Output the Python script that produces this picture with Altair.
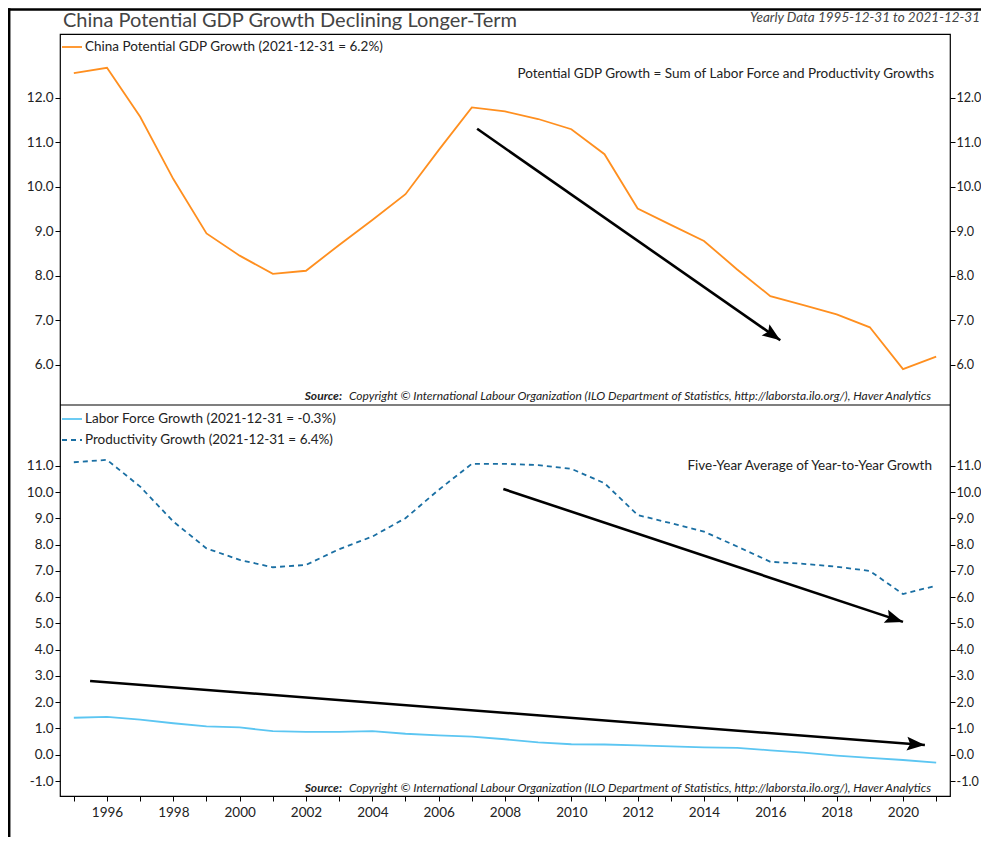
import math
import altair as alt
import pandas as pd

# ---------------- data ----------------
years = list(range(1995, 2022))
gdp = [12.55, 12.67, 11.57, 10.17, 8.95, 8.45, 8.04, 8.11, 8.69, 9.25, 9.83, 10.82, 11.78,
       11.69, 11.52, 11.29, 10.73, 9.51, 9.14, 8.78, 8.14, 7.54, 7.34, 7.13, 6.84, 5.90, 6.18]
productivity = [11.14, 11.23, 10.21, 8.88, 7.86, 7.42, 7.14, 7.23, 7.83, 8.31, 9.01, 10.09, 11.08,
                11.08, 11.03, 10.89, 10.34, 9.13, 8.82, 8.50, 7.93, 7.35, 7.27, 7.16, 7.00, 6.12, 6.44]
labor = [1.41, 1.44, 1.34, 1.20, 1.08, 1.04, 0.90, 0.87, 0.87, 0.90, 0.80, 0.74, 0.69,
         0.59, 0.47, 0.40, 0.39, 0.36, 0.32, 0.28, 0.26, 0.17, 0.08, -0.03, -0.12, -0.20, -0.30]

top_ticks = [6, 7, 8, 9, 10, 11, 12]
bottom_ticks = [-1, 0, 1, 2, 3, 4, 5, 6, 7, 8, 9, 10, 11]

# trend arrows (year, value) start -> end
top_arrow_x = [2007.16, 2016.3]
top_arrow_y = [11.30, 6.55]
prod_arrow_x = [2007.95, 2020.0]
prod_arrow_y = [10.12, 5.06]
labor_arrow_x = [1995.49, 2020.66]
labor_arrow_y = [2.81, 0.37]

title_text = "China Potential GDP Growth Declining Longer-Term"
subtitle_text = "Yearly Data 1995-12-31 to 2021-12-31"
legend_gdp = "China Potential GDP Growth (2021-12-31 = 6.2%)"
legend_labor = "Labor Force Growth (2021-12-31 = -0.3%)"
legend_prod = "Productivity Growth (2021-12-31 = 6.4%)"
note_top = "Potential GDP Growth = Sum of Labor Force and Productivity Growths"
note_bottom = "Five-Year Average of Year-to-Year Growth"
source_label = "Source:"
source_text = ("Copyright \u00a9 International Labour Organization (ILO Department of Statistics, "
               "http://laborsta.ilo.org/), Haver Analytics")

# ---------------- layout / style ----------------
W = 890
H_TOP = 371
H_BOT = 391
H = H_TOP + H_BOT
X_DOM = [1994.583, 2021.417]
TOP_DOM = [5.094, 13.43]
BOT_DOM = [-1.571, 13.32]
FONT = "Lato"
ORANGE = "#ff8f1f"
LIGHTBLUE = "#5cc6f2"
DARKBLUE = "#1a6fa3"
TXT = "#222222"
FS = 13.5
SRC_FS = 12

df = pd.DataFrame({"year": years, "gdp": gdp, "prod": productivity, "labor": labor})

xs = alt.Scale(domain=X_DOM, nice=False, zero=False)
x_axis = alt.Axis(orient="bottom", values=years,
                  labelExpr="datum.value % 2 == 0 ? format(datum.value, 'd') : ''",
                  domain=False, grid=False, ticks=True, tickSize=5, tickColor="black",
                  labelFont=FONT, labelFontSize=13.5, labelColor=TXT, labelPadding=4,
                  labelOverlap=False, labelFlush=False, title=None)


def xenc(field="year"):
    return alt.X(f"{field}:Q", scale=xs, axis=x_axis)


def top_scale():
    return alt.Scale(domain=TOP_DOM, range=[H_TOP, 0], nice=False, zero=False)


def bot_scale():
    return alt.Scale(domain=BOT_DOM, range=[H, H_TOP], nice=False, zero=False)


def yaxis(orient, vals):
    right = orient == "right"
    return alt.Axis(orient=orient, values=vals,
                    labelExpr="replace(format(datum.value, '.1f'), '\u2212', '-')",
                    domain=False, grid=False, ticks=True, tickSize=5, tickColor="black",
                    labelFont=FONT, labelFontSize=12.6 if right else 13.5,
                    labelColor=TXT, labelPadding=1 if right else 2,
                    title=None)


base = alt.Chart(df)

gdp_line = base.mark_line(color=ORANGE, strokeWidth=1.8).encode(
    x=xenc(), y=alt.Y("gdp:Q", scale=top_scale(), axis=yaxis("left", top_ticks)))
gdp_right = base.mark_line(strokeOpacity=0).encode(
    x=xenc(), y=alt.Y("gdp:Q", scale=top_scale(), axis=yaxis("right", top_ticks)))
prod_line = base.mark_line(color=DARKBLUE, strokeWidth=1.8, strokeDash=[5, 4]).encode(
    x=xenc(), y=alt.Y("prod:Q", scale=bot_scale(), axis=yaxis("left", bottom_ticks)))
prod_right = base.mark_line(strokeOpacity=0).encode(
    x=xenc(), y=alt.Y("prod:Q", scale=bot_scale(), axis=yaxis("right", bottom_ticks)))
labor_line = base.mark_line(color=LIGHTBLUE, strokeWidth=1.8).encode(
    x=xenc(), y=alt.Y("labor:Q", scale=bot_scale(), axis=None))

# arrows
px_per_year = W / (X_DOM[1] - X_DOM[0])
px_top = H_TOP / (TOP_DOM[1] - TOP_DOM[0])
px_bot = H_BOT / (BOT_DOM[1] - BOT_DOM[0])


def angle(xp, yp, k):
    dx = (xp[1] - xp[0]) * px_per_year
    dy = (yp[0] - yp[1]) * k
    return math.degrees(math.atan2(dy, dx)) % 360


arr_top = pd.DataFrame({"x0": [top_arrow_x[0]], "y0": [top_arrow_y[0]],
                        "x1": [top_arrow_x[1]], "y1": [top_arrow_y[1]],
                        "ang": [angle(top_arrow_x, top_arrow_y, px_top)]})
arr_bot = pd.DataFrame({"x0": [prod_arrow_x[0], labor_arrow_x[0]],
                        "y0": [prod_arrow_y[0], labor_arrow_y[0]],
                        "x1": [prod_arrow_x[1], labor_arrow_x[1]],
                        "y1": [prod_arrow_y[1], labor_arrow_y[1]],
                        "ang": [angle(prod_arrow_x, prod_arrow_y, px_bot),
                                angle(labor_arrow_x, labor_arrow_y, px_bot)]})

HEAD = "M0,0L-1,-0.38L-0.82,0L-1,0.38Z"


def arrow_layers(adf, scale_fn):
    shaft = alt.Chart(adf).mark_rule(color="black", strokeWidth=2.6).encode(
        x=xenc("x0"), x2="x1:Q",
        y=alt.Y("y0:Q", scale=scale_fn(), axis=None), y2="y1:Q")
    head = alt.Chart(adf).mark_point(shape=HEAD, filled=True, color="black",
                                     size=1296, opacity=1).encode(
        x=xenc("x1"), y=alt.Y("y1:Q", scale=scale_fn(), axis=None),
        angle=alt.Angle("ang:Q", scale=None))
    return [shaft, head]


def one(label):
    return alt.Chart(pd.DataFrame({"t": [label]}))


def text(label, x, y, align="left", size=FS, color=TXT, style="normal", weight="normal"):
    return one(label).mark_text(align=align, baseline="middle", font=FONT, fontSize=size,
                                color=color, fontStyle=style, fontWeight=weight).encode(
        x=alt.value(x), y=alt.value(y), text="t:N")


def hrule(x0, x1, y, color="black", width=1.2, dash=None):
    kw = dict(color=color, strokeWidth=width)
    if dash:
        kw["strokeDash"] = dash
    return one("r").mark_rule(**kw).encode(x=alt.value(x0), x2=alt.value(x1), y=alt.value(y))


def vrule(x, y0, y1, color="black", width=2.5):
    return one("r").mark_rule(color=color, strokeWidth=width).encode(
        x=alt.value(x), y=alt.value(y0), y2=alt.value(y1))


annotations = [
    # outer frame
    hrule(-52, 921, -24.6, width=2.5),
    vrule(-50.8, -25.8, 803),
    # panel separator
    hrule(0, W, H_TOP, width=1.2),
    # title
    text(title_text, 3, -13, size=20, color="#444444"),
    text(subtitle_text, 920, -16, align="right", size=13.5, color="#444444", style="italic"),
    # top legend + notes
    hrule(2, 22, 13, color=ORANGE, width=1.8),
    text(legend_gdp, 25, 13),
    text(note_top, 874, 40, align="right"),
    text(source_label, 282, 362, align="right", size=SRC_FS, style="italic", weight="bold"),
    text(source_text, 289, 362, size=SRC_FS, style="italic"),
    # bottom legend + notes
    hrule(2, 22, H_TOP + 14, color=LIGHTBLUE, width=1.8),
    text(legend_labor, 25, H_TOP + 14),
    hrule(2, 22, H_TOP + 35, color=DARKBLUE, width=1.8, dash=[5, 4]),
    text(legend_prod, 25, H_TOP + 35),
    text(note_bottom, 872, H_TOP + 61, align="right"),
    text(source_label, 282, H_TOP + 383, align="right", size=SRC_FS, style="italic", weight="bold"),
    text(source_text, 289, H_TOP + 383, size=SRC_FS, style="italic"),
]

layers = ([gdp_line, gdp_right, prod_line, prod_right, labor_line]
          + arrow_layers(arr_top, top_scale) + arrow_layers(arr_bot, bot_scale)
          + annotations)

chart = alt.layer(*layers).resolve_scale(y="independent").properties(
    width=W, height=H,
    autosize=alt.AutoSizeParams(type="none"),
    padding={"left": 52, "top": 26, "right": 31, "bottom": 41},
).configure_view(stroke="black", strokeWidth=1.2)

chart.save("out.html", embed_options={"renderer": "svg", "actions": False})
